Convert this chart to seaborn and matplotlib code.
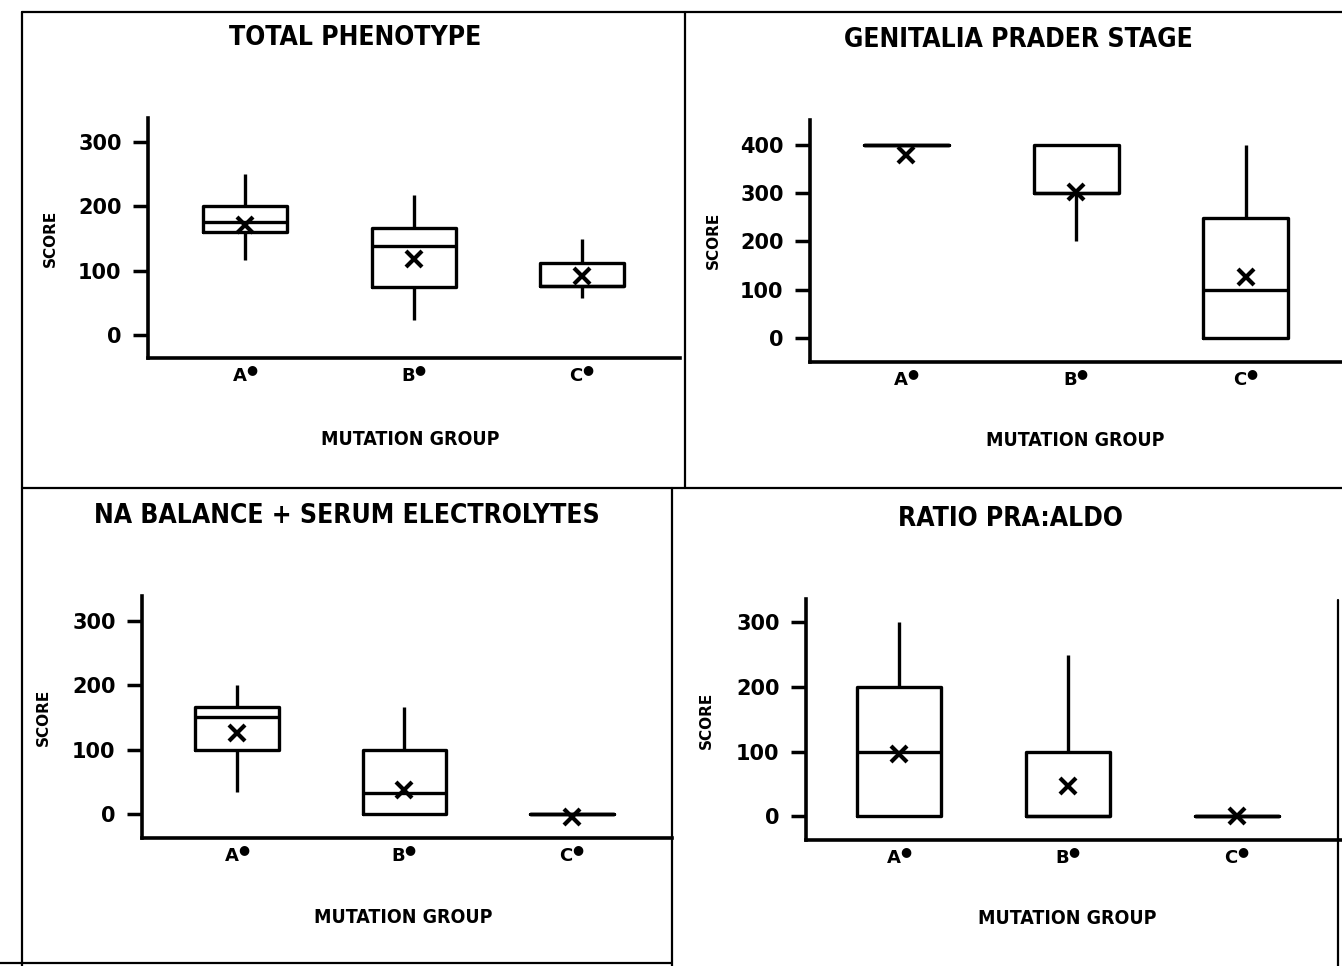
import numpy as np
import pandas as pd
import seaborn as sns
import matplotlib.pyplot as plt
from matplotlib.lines import Line2D

sns.set_style("ticks")
plt.rcParams['font.family'] = ['DejaVu Sans']
for k in ['text.color', 'axes.edgecolor', 'axes.labelcolor', 'xtick.color', 'ytick.color']:
    plt.rcParams[k] = 'black'

groups = ["A", "B", "C"]
group_labels = ["A$^●$", "B$^●$", "C$^●$"]

# five-number summaries per group: [low, q1, median, q3, high]
total_box = [[116, 160, 175, 200, 250], [23, 74, 138, 166, 217], [57, 76, 76, 112, 149]]
total_mean = [170, 118, 91]

prader_box = [[400, 400, 400, 400, 400], [200, 300, 300, 400, 400], [0, 0, 100, 248, 400]]
prader_mean = [380, 302, 127]

na_box = [[34, 100, 150, 166, 200], [0, 0, 33, 100, 166], [0, 0, 0, 0, 0]]
na_mean = [126, 37, -4]

ratio_box = [[0, 0, 100, 200, 300], [0, 0, 0, 100, 250], [0, 0, 0, 0, 0]]
ratio_mean = [96, 47, 0]

titles = ["TOTAL PHENOTYPE", "GENITALIA PRADER STAGE",
          "NA BALANCE + SERUM ELECTROLYTES", "RATIO PRA:ALDO"]

fig = plt.figure(figsize=(13.42, 9.66), dpi=100)

panels = [
    # box, mean, axes rect, xlim, ylim, yticks, title pos, xlabel pos, ylabel pos
    (total_box, total_mean, [0.1103, 0.6294, 0.3964, 0.2484], (-0.576, 2.58), (-36, 337),
     [0, 100, 200, 300], (0.2645, 0.9607), (0.3055, 0.5455), (0.0373, 0.7536)),
    (prader_box, prader_mean, [0.6036, 0.6253, 0.3964, 0.2505], (-0.565, 2.565), (-50, 452),
     [0, 100, 200, 300, 400], (0.7586, 0.9586), (0.801, 0.5435), (0.5313, 0.7516)),
    (na_box, na_mean, [0.1058, 0.1325, 0.3949, 0.2505], (-0.567, 2.597), (-37, 338),
     [0, 100, 200, 300], (0.2586, 0.4658), (0.3003, 0.0507), (0.032, 0.2578)),
    (ratio_box, ratio_mean, [0.6006, 0.1304, 0.3994, 0.2495], (-0.55, 2.62), (-37, 336),
     [0, 100, 200, 300], (0.7526, 0.4627), (0.795, 0.0487), (0.526, 0.2547)),
]

for i, (box, means, rect, xlim, ylim, yticks, tpos, xlpos, ylpos) in enumerate(panels):
    ax = fig.add_axes(rect)
    df = pd.DataFrame({"group": np.repeat(groups, 5),
                       "score": np.concatenate([np.array(b, dtype=float) for b in box])})
    sns.boxplot(data=df, x="group", y="score", order=groups, whis=(0, 100), width=0.5,
                fill=False, color="black", linecolor="black", linewidth=2.4,
                showcaps=False, showfliers=False, ax=ax)
    sns.pointplot(x=groups, y=means, order=groups, linestyles="none", markers="x",
                  color="black", markersize=11, markeredgewidth=3, errorbar=None, ax=ax)
    ax.set_xlim(*xlim)
    ax.set_ylim(*ylim)
    ax.set_yticks(yticks)
    ax.set_yticklabels([str(t) for t in yticks], fontsize=15, fontweight="bold")
    ax.set_xticks(range(len(groups)))
    ax.set_xticklabels(group_labels, fontsize=13, fontweight="bold")
    ax.set_xlabel("")
    ax.set_ylabel("")
    ax.tick_params(axis="y", direction="out", length=11, width=2.5, pad=8)
    ax.tick_params(axis="x", length=0, pad=6)
    for s in ["top", "right"]:
        ax.spines[s].set_visible(False)
    for s in ["left", "bottom"]:
        ax.spines[s].set_linewidth(2.6)
    fig.text(tpos[0], tpos[1], titles[i], ha="center", va="center", fontsize=19,
             fontweight="bold", fontstretch="condensed")
    fig.text(xlpos[0], xlpos[1], "MUTATION GROUP", ha="center", va="center",
             fontsize=14, fontweight="bold", fontstretch="condensed")
    fig.text(ylpos[0], ylpos[1], "SCORE", ha="center", va="center", rotation=90,
             fontsize=11, fontweight="bold")

# panel frame lines
frame = [
    ([0.0164, 1.0], [0.9876, 0.9876]),
    ([0.0164, 0.0164], [0.9876, 0.0]),
    ([0.5104, 0.5104], [0.9876, 0.4948]),
    ([0.5007, 0.5007], [0.4948, 0.0]),
    ([0.0164, 1.0], [0.4948, 0.4948]),
    ([0.0, 0.5], [0.003, 0.003]),
    ([0.997, 0.997], [0.379, 0.0]),
]
for xs, ys in frame:
    fig.add_artist(Line2D(xs, ys, transform=fig.transFigure, color="black", linewidth=1.6))

plt.savefig("out.png", dpi=100)
